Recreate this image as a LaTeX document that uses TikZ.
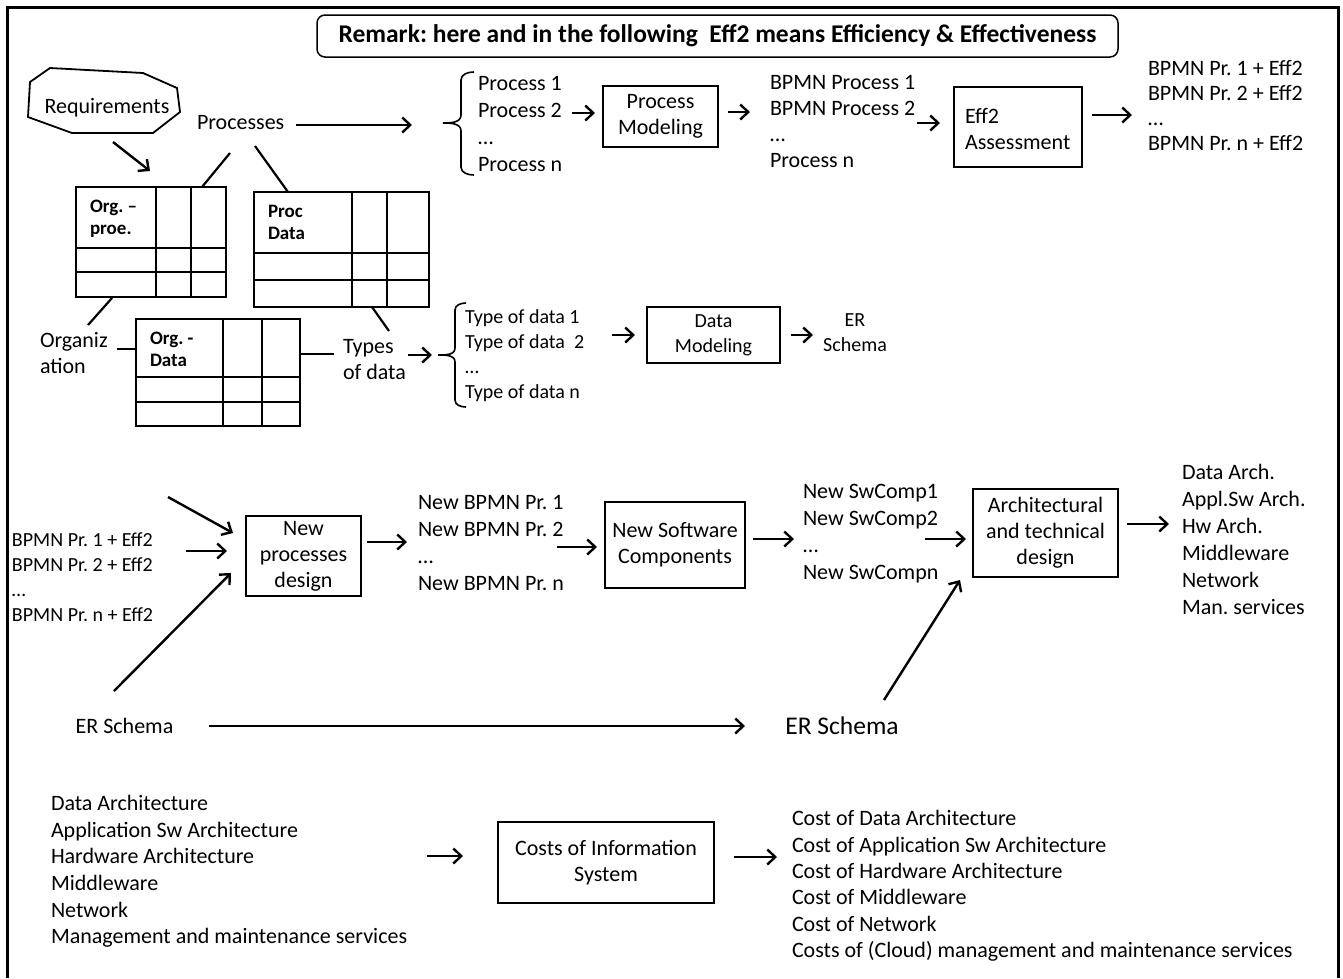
\documentclass[tikz,border=0pt]{standalone}
\usepackage{fontspec}
\setmainfont{Carlito}
\usetikzlibrary{arrows.meta}
\begin{document}
\frenchspacing
\begin{tikzpicture}[x=1pt,y=-1pt,
  every node/.style={inner sep=0pt,outer sep=0pt},
  txt/.style={font=\fontsize{22}{26}\selectfont, align=left, anchor=west},
  ctxt/.style={font=\fontsize{22}{26}\selectfont, align=center},
  tabtxt/.style={font=\bfseries\fontsize{19}{22}\selectfont, align=left, anchor=west},
  box/.style={draw, line width=2.6pt, font=\fontsize{22}{26}\selectfont, align=center},
  arr/.style={-{Straight Barb[length=8pt,width=15pt]}, line width=2.4pt},
  ln/.style={line width=2.2pt},
  grid/.style={line width=2pt},
]
\useasboundingbox (0,0) rectangle (1343,978);
% outer frame (open at the bottom)
\draw[line width=3pt] (7,978) -- (7,7) -- (1338,7) -- (1338,978);

% remark banner
\node[draw, rounded corners=8pt, line width=1.5pt, minimum width=801pt, minimum height=42pt,
      font=\bfseries\fontsize{25.5}{28}\selectfont] (remark) at (717.5,36)
  {Remark: here and in the following~ Eff2 means Efficiency \& Effectiveness};

% ---------- analysis of requirements ----------
\draw[line width=1.8pt] (50,68) -- (143,73) -- (177,88) -- (180,112) -- (153,133)
  -- (72,133) -- (28,117) -- (30,82) -- cycle;
\node[ctxt] (req) at (107,108) {Requirements};
\node[txt] (proc) at (197,123) {Processes};

% matrix tables
\draw[grid] (76,187) rectangle (226,297);
\draw[grid] (156,187) -- (156,297) (191,187) -- (191,297)
            (76,248) -- (226,248) (76,272) -- (226,272);
\node[tabtxt] (torgproc) at (90,219) {Org. --\\proe.};

\draw[grid] (254,192) rectangle (429,307);
\draw[grid] (352,192) -- (352,307) (387,192) -- (387,307)
            (254,253) -- (429,253) (254,280) -- (429,280);
\node[tabtxt] (tprocdata) at (268,222.5) {Proc\\Data};

\draw[grid] (136,319) rectangle (300,426);
\draw[grid] (223,319) -- (223,426) (262,319) -- (262,426)
            (136,377) -- (300,377) (136,402) -- (300,402);
\node[tabtxt] (torgdata) at (150,349) {Org. -\\Data};

\node[txt] (org) at (40,353.5) {Organiz\\ation};
\node[txt] (types) at (343,360) {Types\\of data};

% links between labels and tables
\coordinate (r1) at (113,142); \coordinate (r2) at (150,171);
\draw[arr] (r1) -- (r2);
\coordinate (p1) at (230,153); \coordinate (p2) at (202,187);
\coordinate (p3) at (255,146); \coordinate (p4) at (288,192);
\draw[ln] (p1) -- (p2);
\draw[ln] (p3) -- (p4);
\coordinate (o1) at (112,298); \coordinate (o2) at (88,325);
\draw[ln] (o1) -- (o2);
\coordinate (o3) at (117,349); \coordinate (o4) at (136,349);
\draw[ln] (o3) -- (o4);
\coordinate (d1) at (372,307); \coordinate (d2) at (389,331);
\draw[ln] (d1) -- (d2);
\coordinate (d3) at (300,354); \coordinate (d4) at (334,354);
\draw[ln] (d3) -- (d4);

% processes branch
\coordinate (pa1) at (296,125); \coordinate (pa2) at (412,125);
\draw[arr] (pa1) -- (pa2);
\draw[line width=1.6pt] (474,72) to[out=180,in=90] (461,80) -- (461,115)
  to[out=-90,in=0] (443,123) to[out=0,in=90] (461,131) -- (461,167)
  to[out=-90,in=180] (474,175);
\node[txt, font=\fontsize{22}{27}\selectfont] (plist) at (478,123.5)
  {Process 1\\Process 2\\…\\Process n};
\coordinate (pm1) at (572,113); \coordinate (pm2) at (595,113);
\draw[arr] (pm1) -- (pm2);
\node[box, minimum width=115pt, minimum height=61pt] (pmod) at (660.5,116.5) {Process\\Modeling};
\coordinate (pm3) at (728,112); \coordinate (pm4) at (750,112);
\draw[arr] (pm3) -- (pm4);
\node[txt] (bplist) at (770,121) {BPMN Process 1\\BPMN Process 2\\…\\Process n};
\coordinate (ea1) at (917,123); \coordinate (ea2) at (940,123);
\draw[arr] (ea1) -- (ea2);
\node[draw, line width=2.6pt, minimum width=128pt, minimum height=80pt] (effbox) at (1018,127) {};
\node[txt] (efftxt) at (965,128.5) {Eff2\\Assessment};
\coordinate (ea3) at (1092,115); \coordinate (ea4) at (1132,115);
\draw[arr] (ea3) -- (ea4);
\node[txt, font=\fontsize{22}{25}\selectfont] (efflist) at (1148,105.5)
  {BPMN Pr. 1 + Eff2\\BPMN Pr. 2 + Eff2\\…\\BPMN Pr. n + Eff2};

% data branch
\coordinate (ta1) at (408,355); \coordinate (ta2) at (432,355);
\draw[arr] (ta1) -- (ta2);
\draw[line width=1.6pt] (466,303) to[out=180,in=90] (455,310) -- (455,348)
  to[out=-90,in=0] (438,355) to[out=0,in=90] (455,362) -- (455,400)
  to[out=-90,in=180] (466,407);
\node[txt, font=\fontsize{20}{25}\selectfont] (tlist) at (465,355.5)
  {Type of data 1\\Type of data~ 2\\…\\Type of data n};
\coordinate (dm1) at (612,335); \coordinate (dm2) at (635,335);
\draw[arr] (dm1) -- (dm2);
\node[box, minimum width=133pt, minimum height=56pt, font=\fontsize{20}{25}\selectfont] (dmod) at (713.5,335) {Data\\Modeling};
\coordinate (dm3) at (791,335); \coordinate (dm4) at (813,335);
\draw[arr] (dm3) -- (dm4);
\node[ctxt, font=\fontsize{20}{25}\selectfont] (er1) at (855,332.5) {ER\\Schema};

% ---------- design ----------
\coordinate (na0) at (168,497); \coordinate (na1) at (233,533);
\draw[arr] (na0) -- (na1);
\node[txt, font=\fontsize{20}{25}\selectfont] (inlist) at (12,577)
  {BPMN Pr. 1 + Eff2\\BPMN Pr. 2 + Eff2\\…\\BPMN Pr. n + Eff2};
\coordinate (nb0) at (186,551); \coordinate (nb1) at (227,551);
\draw[arr] (nb0) -- (nb1);
\coordinate (nc0) at (114,691); \coordinate (nc1) at (231,573);
\draw[arr] (nc0) -- (nc1);
\node[box, minimum width=115pt, minimum height=80pt] (npd) at (303.5,556) {New\\processes\\design};
\coordinate (nd0) at (367,542); \coordinate (nd1) at (407,542);
\draw[arr] (nd0) -- (nd1);
\node[txt, font=\fontsize{22}{27}\selectfont] (nbl) at (418,542.5)
  {New BPMN Pr. 1\\New BPMN Pr. 2\\…\\New BPMN Pr. n};
\coordinate (ne0) at (557,547); \coordinate (ne1) at (597,547);
\draw[arr] (ne0) -- (ne1);
\node[box, minimum width=140pt, minimum height=86pt] (nsc) at (675,545) {New Software\\Components};
\coordinate (nf0) at (753,539); \coordinate (nf1) at (794,539);
\draw[arr] (nf0) -- (nf1);
\node[txt, font=\fontsize{22}{27}\selectfont] (swl) at (803,533.5)
  {New SwComp1\\New SwComp2\\…\\New SwCompn};
\coordinate (ng0) at (925,539); \coordinate (ng1) at (966,539);
\draw[arr] (ng0) -- (ng1);
\node[box, minimum width=145pt, minimum height=88pt] (atd) at (1045.5,533) {Architectural\\and technical\\design};
\coordinate (nh0) at (1127,524); \coordinate (nh1) at (1169,524);
\draw[arr] (nh0) -- (nh1);
\node[txt, font=\fontsize{22}{27}\selectfont] (archl) at (1182,539.5)
  {Data Arch.\\Appl.Sw Arch.\\Hw Arch.\\Middleware\\Network\\Man. services};

\node[ctxt] (erl) at (124.5,726) {ER Schema};
\node[ctxt, font=\fontsize{25.5}{30}\selectfont] (err) at (842,726) {ER Schema};
\coordinate (ni0) at (209,726); \coordinate (ni1) at (745,726);
\draw[arr] (ni0) -- (ni1);
\coordinate (nj0) at (884,700); \coordinate (nj1) at (960,580);
\draw[arr] (nj0) -- (nj1);

% ---------- costs ----------
\node[txt, font=\fontsize{22}{26.6}\selectfont] (arl) at (51,871.5)
  {Data Architecture\\Application Sw Architecture\\Hardware Architecture\\Middleware\\Network\\Management and maintenance services};
\coordinate (ca0) at (427,856); \coordinate (ca1) at (463,856);
\draw[arr] (ca0) -- (ca1);
\node[box, minimum width=216pt, minimum height=81pt] (cis) at (606,862.5) {Costs of Information\\System};
\coordinate (cb0) at (734,857); \coordinate (cb1) at (777,857);
\draw[arr] (cb0) -- (cb1);
\node[txt, font=\fontsize{22}{26.4}\selectfont] (costl) at (792,886)
  {Cost of Data Architecture\\Cost of Application Sw Architecture\\Cost of Hardware Architecture\\Cost of Middleware\\Cost of Network\\Costs of (Cloud) management and maintenance services};
\end{tikzpicture}
\end{document}
